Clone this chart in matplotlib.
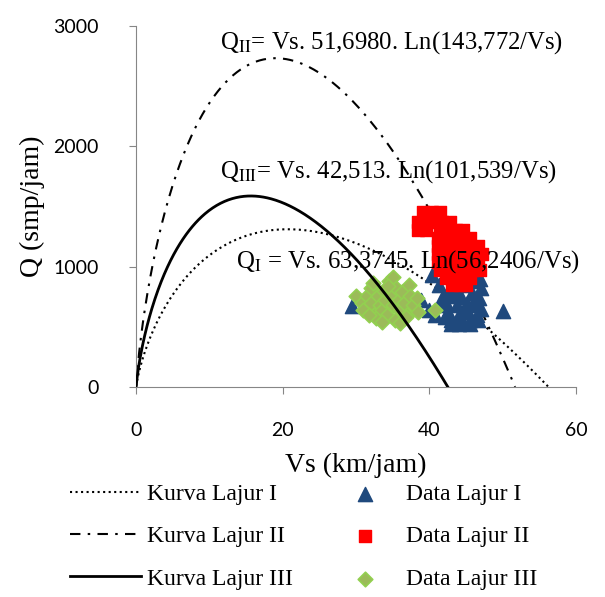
import numpy as np
import matplotlib
matplotlib.use('Agg')
import matplotlib.pyplot as plt

plt.rcParams['mathtext.fontset'] = 'stix'

# model parameters: Q = Vs * a * ln(b / Vs)
kurva_a = [63.3745, 143.772, 101.539]
kurva_b = [56.2406, 51.698, 42.513]

# observed points per lane (Vs km/jam, Q smp/jam)
lajur1_vs = [29.5, 50.0, 38.8, 39.9, 40.4, 41.3, 41.8, 42.3, 42.6, 43.0, 43.4, 43.6,
             43.8, 44.1, 44.3, 44.5, 44.8, 45.1, 45.3, 45.5, 45.8, 46.1, 46.3, 46.5,
             46.8, 47.0, 46.6, 42.9, 44.3, 45.3, 42.1, 43.5, 44.9, 46.2, 42.9, 41.5,
             47.1, 40.8, 43.0, 44.0, 45.6, 46.9, 42.5, 43.9, 45.0]
lajur1_q = [670, 630, 720, 640, 930, 850, 760, 700, 620, 560, 800, 900,
            680, 600, 750, 540, 850, 700, 620, 560, 780, 680, 880, 600,
            740, 820, 560, 980, 1000, 950, 580, 760, 650, 720, 840, 680,
            650, 600, 520, 520, 520, 900, 770, 560, 860]

lajur2_vs = [39.2, 40.4, 41.5,
             38.5, 39.6, 40.7, 41.7, 42.8,
             38.5, 39.6, 41.5, 42.6, 43.7, 44.6,
             41.2, 42.3, 43.4, 44.5, 45.6,
             41.2, 42.3, 43.4, 44.5, 45.6, 46.7,
             41.2, 42.3, 43.4, 44.5, 45.6, 46.7, 47.2,
             41.2, 42.3, 43.4, 44.5, 45.6, 46.7,
             41.5, 42.6, 43.7, 44.8, 45.8, 46.9,
             42.3, 43.4, 44.5, 45.6,
             43.1, 44.2, 45.0]
lajur2_q = [1455, 1455, 1455,
            1372, 1372, 1372, 1372, 1372,
            1305, 1305, 1305, 1305, 1305, 1305,
            1239, 1239, 1239, 1239, 1239,
            1172, 1172, 1172, 1172, 1172, 1172,
            1106, 1106, 1106, 1106, 1106, 1106, 1106,
            1039, 1039, 1039, 1039, 1039, 1039,
            973, 973, 973, 973, 973, 973,
            906, 906, 906, 906,
            848, 848, 848]

lajur3_vs = [30.0, 30.8, 31.0, 31.5, 32.0, 32.3, 32.0, 32.5, 32.7, 33.0, 33.2, 33.5,
             33.8, 34.0, 34.2, 34.5, 35.0, 34.8, 35.0, 35.3, 35.5, 35.8, 36.0, 36.0,
             36.3, 36.6, 37.0, 37.2, 37.3, 37.8, 38.3, 38.4, 33.5, 31.8, 40.8, 34.3,
             36.8]
lajur3_q = [760, 700, 640, 760, 820, 860, 700, 600, 570, 760, 680, 640,
            800, 720, 600, 880, 910, 760, 680, 560, 820, 720, 640, 530,
            790, 700, 600, 850, 760, 680, 740, 620, 540, 600, 640, 840,
            580]

fig, ax = plt.subplots(figsize=(6.05, 5.97), dpi=100)
fig.subplots_adjust(left=0.225, right=0.952, bottom=0.352, top=0.956)

styles = [dict(ls=':', lw=1.5, zorder=1),
          dict(ls=(0, (5, 3.5, 1.2, 3.5)), lw=1.5, zorder=1),
          dict(ls='-', lw=2, zorder=3)]
names = ['Kurva Lajur I', 'Kurva Lajur II', 'Kurva Lajur III']
for a, b, st, nm in zip(kurva_a, kurva_b, styles, names):
    vs = np.linspace(0.01, b, 400)
    ax.plot(vs, vs * a * np.log(b / vs), color='black', label=nm, **st)

ax.scatter(lajur1_vs, lajur1_q, marker='^', s=105, color='#1F497D', zorder=2,
           label='Data Lajur I')
ax.scatter(lajur2_vs, lajur2_q, marker='s', s=80, color='#FF0000', zorder=2,
           label='Data Lajur II')
ax.scatter(lajur3_vs, lajur3_q, marker='D', s=55, facecolor='#9BBB59',
           edgecolor='#92D050', linewidth=1.2, zorder=2, label='Data Lajur III')

fs_txt = 17.8
ax.text(11.5, 2868, r'Q$_\mathrm{II}$= Vs. 51,6980. Ln(143,772/Vs)',
        family='Liberation Serif', fontsize=fs_txt, va='center')
ax.text(11.5, 1787, r'Q$_\mathrm{III}$= Vs. 42,513. Ln(101,539/Vs)',
        family='Liberation Serif', fontsize=fs_txt, va='center', zorder=4)
ax.text(13.6, 1039, r'Q$_\mathrm{I}$ = Vs. 63,3745. Ln(56,2406/Vs)',
        family='Liberation Serif', fontsize=fs_txt, va='center', zorder=4)

ax.set_xlim(0, 60)
ax.set_ylim(0, 3000)
ax.set_xticks([0, 20, 40, 60])
ax.set_yticks([0, 1000, 2000, 3000])
for s in ['top', 'right']:
    ax.spines[s].set_visible(False)
for s in ['left', 'bottom']:
    ax.spines[s].set_color('#868686')
ax.tick_params(colors='#868686', length=5, labelcolor='black', labelsize=14)
for lbl in ax.get_xticklabels() + ax.get_yticklabels():
    lbl.set_family('Lato')
ax.tick_params(axis='y', pad=22)
ax.tick_params(axis='x', pad=20)

ax.set_xlabel('Vs (km/jam)', family='Liberation Serif', fontsize=20, labelpad=10)
ax.set_ylabel('Q (smp/jam)', family='Liberation Serif', fontsize=20, labelpad=6)

h, l = ax.get_legend_handles_labels()
fig.legend(h, l, loc='upper left', bbox_to_anchor=(0.116, 0.19), ncol=2,
           frameon=False, prop={'family': 'Liberation Serif', 'size': 17},
           borderpad=0, borderaxespad=0,
           handlelength=3.0, handletextpad=0.25, columnspacing=1.55,
           labelspacing=0.88, scatterpoints=1)

plt.savefig('out.png', dpi=100)
plt.close()
